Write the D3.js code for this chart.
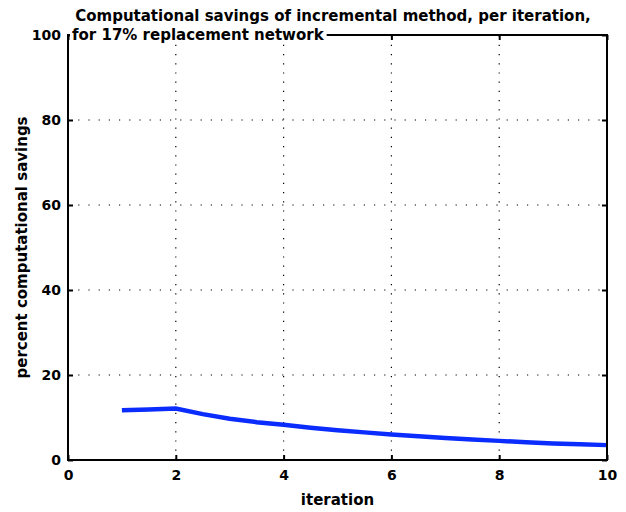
<!DOCTYPE html>
<html>
<head>
<meta charset="utf-8">
<script src="https://cdn.jsdelivr.net/npm/d3@7"></script>
<style>
  body { margin: 0; background: #fff; }
  text { font-family: "DejaVu Sans", sans-serif; font-weight: bold; fill: #000; }
</style>
</head>
<body>
<div id="chart"></div>
<script>
const iterations = [1, 1.5, 2, 2.5, 3, 3.5, 4, 4.5, 5, 5.5, 6, 6.5, 7, 7.5, 8, 8.5, 9, 9.5, 10]
const savings = [11.7, 11.9, 12.1, 10.8, 9.7, 8.9, 8.3, 7.6, 7.0, 6.5, 6.0, 5.6, 5.2, 4.8, 4.5, 4.2, 3.9, 3.7, 3.5]
const xTicks = [0, 2, 4, 6, 8, 10]
const yTicks = [0, 20, 40, 60, 80, 100]
const titleLines = ["Computational savings of incremental method, per iteration,", "for 17% replacement network"]

const W = 626, H = 512
const m = { left: 68, right: 19, top: 35, bottom: 52 }

const svg = d3.select("#chart").append("svg")
    .attr("width", W)
    .attr("height", H)

const x = d3.scaleLinear().domain([0, 10]).range([m.left, W - m.right])
const y = d3.scaleLinear().domain([0, 100]).range([H - m.bottom, m.top])

// dotted grid
svg.append("g").selectAll("line")
    .data(xTicks.slice(1, -1))
    .join("line")
    .attr("x1", d => x(d)).attr("x2", d => x(d))
    .attr("y1", y(0)).attr("y2", y(100))
    .attr("stroke", "#000").attr("stroke-width", 1.2)
    .attr("stroke-dasharray", "1.2,8")

svg.append("g").selectAll("line")
    .data(yTicks.slice(1, -1))
    .join("line")
    .attr("y1", d => y(d)).attr("y2", d => y(d))
    .attr("x1", x(0)).attr("x2", x(10))
    .attr("stroke", "#000").attr("stroke-width", 1.2)
    .attr("stroke-dasharray", "1.2,9")

// the curve
const line = d3.line()
    .x((d, i) => x(iterations[i]))
    .y(d => y(d))

svg.append("path")
    .datum(savings)
    .attr("d", line)
    .attr("fill", "none")
    .attr("stroke", "#0a2cff")
    .attr("stroke-width", 4.5)

// axes with inward ticks
const tl = 5
svg.append("g")
    .attr("transform", `translate(0,${y(0)})`)
    .call(d3.axisBottom(x).tickValues(xTicks).tickSize(-tl).tickPadding(10).tickFormat(d3.format("d")))
svg.append("g")
    .attr("transform", `translate(0,${y(100)})`)
    .call(d3.axisTop(x).tickValues(xTicks).tickSize(-tl).tickFormat(""))
svg.append("g")
    .attr("transform", `translate(${x(0)},0)`)
    .call(d3.axisLeft(y).tickValues(yTicks).tickSize(-tl).tickPadding(7).tickFormat(d3.format("d")))
svg.append("g")
    .attr("transform", `translate(${x(10)},0)`)
    .call(d3.axisRight(y).tickValues(yTicks).tickSize(-tl).tickFormat(""))

svg.selectAll(".domain").remove()
svg.selectAll(".tick line").attr("stroke", "#000").attr("stroke-width", 2)
svg.selectAll(".tick text").style("font-size", "14px").style("font-family", "DejaVu Sans").style("font-weight", "bold")

svg.append("rect")
    .attr("x", x(0)).attr("y", y(100))
    .attr("width", x(10) - x(0)).attr("height", y(0) - y(100))
    .attr("fill", "none").attr("stroke", "#000").attr("stroke-width", 2)

// title, second line sits over the box edge on white
svg.append("text")
    .attr("x", 333).attr("y", 21)
    .attr("text-anchor", "middle")
    .style("font-size", "15px")
    .text(titleLines[0])

const t2 = svg.append("text")
    .attr("x", 72).attr("y", 40)
    .style("font-size", "15px")
    .text(titleLines[1])
const bb = t2.node().getBBox()
svg.insert("rect", () => t2.node())
    .attr("x", bb.x - 2).attr("y", bb.y)
    .attr("width", bb.width + 4).attr("height", bb.height)
    .attr("fill", "#fff")

svg.append("text")
    .attr("x", x(5)).attr("y", 505)
    .attr("text-anchor", "middle")
    .style("font-size", "15px")
    .text("iteration")

svg.append("text")
    .attr("transform", `translate(27,${y(50)}) rotate(-90)`)
    .attr("text-anchor", "middle")
    .style("font-size", "15px")
    .text("percent computational savings")
</script>
</body>
</html>
